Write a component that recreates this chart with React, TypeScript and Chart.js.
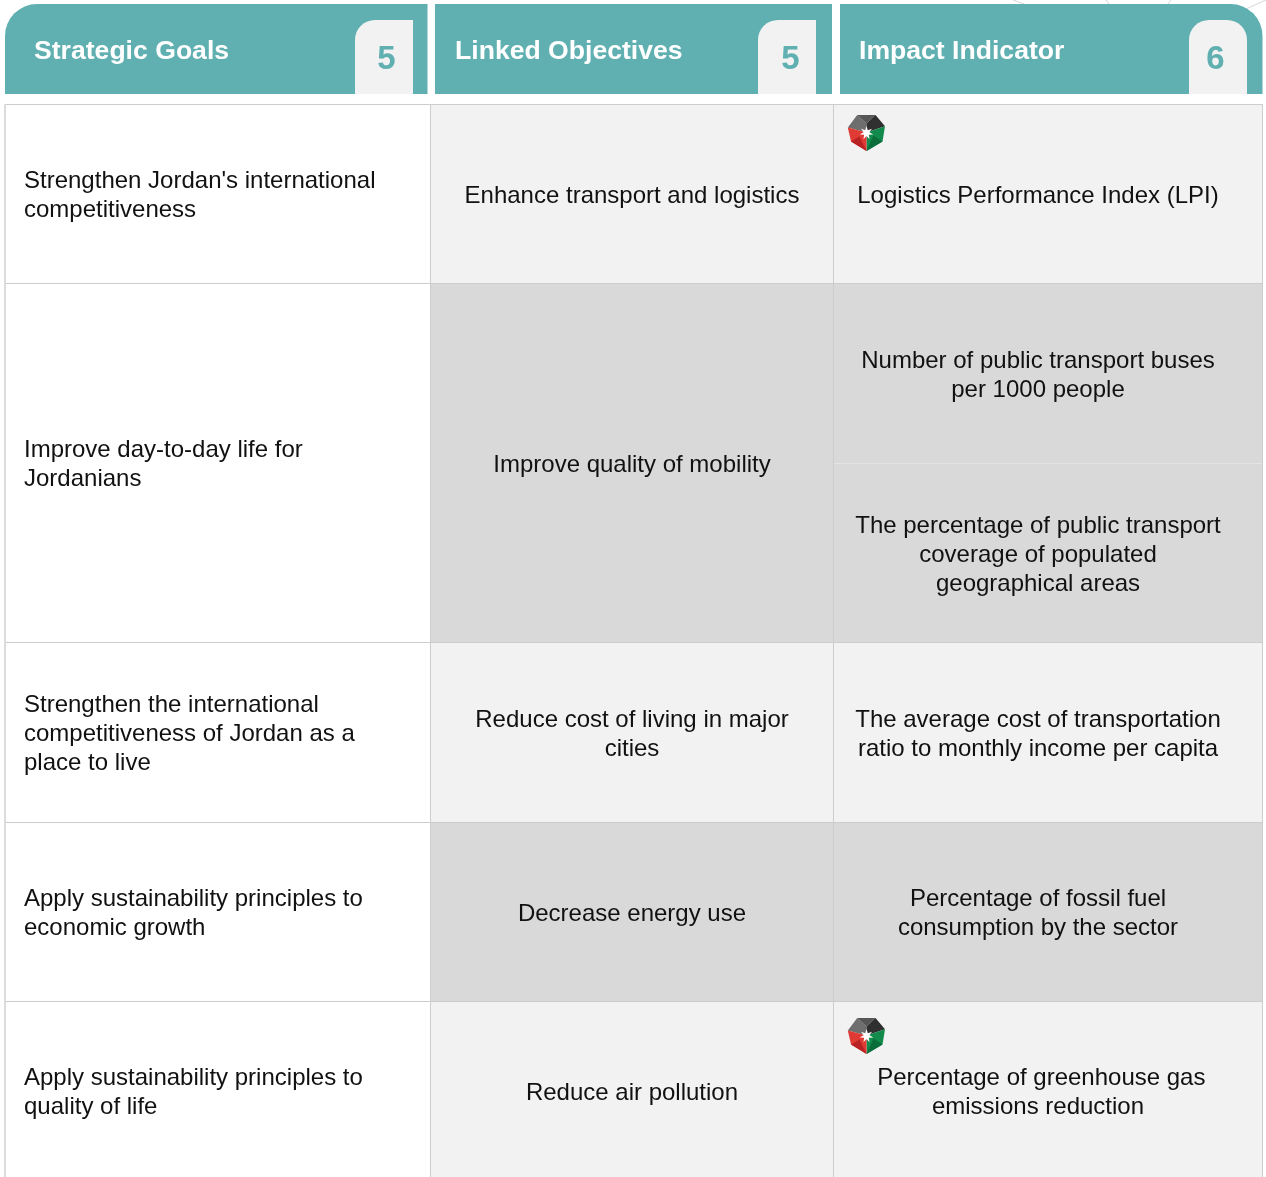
import React, { useEffect, useRef } from "react";
import { Chart, registerables } from "chart.js";

Chart.register(...registerables);

const headers = ["Strategic Goals", "Linked Objectives", "Impact Indicator"];
const headerCounts = ["5", "5", "6"];
const goals = [
  ["Strengthen Jordan's international", "competitiveness"],
  ["Improve day-to-day life for", "Jordanians"],
  ["Strengthen the international", "competitiveness of Jordan as a", "place to live"],
  ["Apply sustainability principles to", "economic growth"],
  ["Apply sustainability principles to", "quality of life"],
];
const goalRowSpans = [1, 2, 1, 1, 1];
const objectives = [
  ["Enhance transport and logistics"],
  ["Improve quality of mobility"],
  ["Reduce cost of living in major", "cities"],
  ["Decrease energy use"],
  ["Reduce air pollution"],
];
const indicators = [
  ["Logistics Performance Index (LPI)"],
  ["Number of public transport buses", "per 1000 people"],
  ["The percentage of public transport", "coverage of populated", "geographical areas"],
  ["The average cost of transportation", "ratio to monthly income per capita"],
  ["Percentage of fossil fuel", "consumption by the sector"],
  [" Percentage of greenhouse gas", "emissions reduction"],
];
const indicatorRowSpans = [1, 1, 1, 1, 1, 1];
const indicatorShades = [0, 1, 1, 0, 1, 0];
const objectiveShades = [0, 1, 0, 1, 0];
const logoRows = [0, 5];

const W = 1266, H = 1177;
const TEAL = "#60b0b1";
const SHADES = ["#f2f2f2", "#d9d9d9"];
const LINE = "#cdcdcd";
const colX = [4.5, 430, 833, 1262];
const textX = [24, 632, 1038];
const rowTop = 104, rowH = 179.4;
const headerBoxes = [[5, 427.5], [435, 832], [840, 1262.5]];
const tabBoxes = [[355, 413], [758, 816], [1189, 1247]];
const headerRadii = [{ topLeft: 32 }, {}, { topRight: 32 }];
const tabRadii = [{ topLeft: 20 }, { topLeft: 20 }, { topLeft: 20, topRight: 20 }];
const headerTextX = [34, 455, 859];
const countX = [386.5, 790.5, 1215.5];
const decoLines = [
  [[1013, 0], [1024, 4]],
  [[1106, 0], [1109, 4]],
  [[1171, 0], [1168, 4]],
  [[1266, 0], [1246, 9]],
];

function App() {
  const ref = useRef<HTMLCanvasElement>(null);
  useEffect(() => {
    const box = (x0: number, x1: number, y0: number, y1: number, color: string, extra: any = {}) => ({
      type: "bar" as const,
      data: [{ x: [x0, x1], y: (y0 + y1) / 2 }],
      backgroundColor: color,
      borderColor: color,
      borderWidth: 0,
      barThickness: y1 - y0,
      grouped: false,
      borderSkipped: false,
      inflateAmount: 0,
      order: 1,
      ...extra,
    });
    const cells: any[] = [];
    const labels: { lines: string[]; x: number; y: number; align: CanvasTextAlign }[] = [];
    const addCol = (col: number, spans: number[], shades: number[] | null, texts: string[][]) => {
      let r = 0;
      spans.forEach((s, i) => {
        const y0 = Math.round(rowTop + r * rowH);
        const y1 = Math.round(rowTop + (r + s) * rowH);
        const fill = shades ? SHADES[shades[i]] : "#ffffff";
        cells.push(box(colX[col], colX[col + 1] + 1, y0, y1 + 1, fill, { borderColor: LINE, borderWidth: 1 }));
        labels.push({ lines: texts[i], x: textX[col], y: (y0 + y1) / 2 + 2.5, align: col === 0 ? "left" : "center" });
        r += s;
      });
    };
    addCol(0, goalRowSpans, null, goals);
    addCol(1, [1, 2, 1, 1, 1], objectiveShades, objectives);
    addCol(2, indicatorRowSpans, indicatorShades, indicators);

    const splitY = Math.round(rowTop + 2 * rowH);
    const split = box(colX[2] + 1, colX[3], splitY, splitY + 1, "#e4e4e4", { order: 0 });
    const leftEdge = box(4, 6, rowTop, H, "#dcdcdc", { order: 0 });

    const headerBars = headerBoxes.map((b, i) =>
      box(b[0], b[1], 4, 94, TEAL, { borderRadius: headerRadii[i] })
    );
    const tabBars = tabBoxes.map((b, i) =>
      box(b[0], b[1], 20, 94, "#f2f2f2", { borderRadius: tabRadii[i], order: 0 })
    );
    const lines = decoLines.map((l) => ({
      type: "line" as const,
      data: l.map((p) => ({ x: p[0], y: p[1] })),
      borderColor: "#d8d8d8",
      borderWidth: 1,
      pointRadius: 0,
      order: 5,
    }));

    const overlay = {
      id: "tableText",
      afterDatasetsDraw(chart: any) {
        const { ctx, scales } = chart;
        const px = (v: number) => scales.x.getPixelForValue(v);
        const py = (v: number) => scales.y.getPixelForValue(v);
        ctx.save();
        ctx.textBaseline = "middle";
        ctx.fillStyle = "#ffffff";
        ctx.font = 'bold 26.6px "Liberation Sans"';
        ctx.textAlign = "left";
        headers.forEach((h, i) => ctx.fillText(h, px(headerTextX[i]), py(52)));
        ctx.fillStyle = TEAL;
        ctx.font = 'bold 33px "Liberation Sans"';
        ctx.textAlign = "center";
        headerCounts.forEach((c, i) => ctx.fillText(c, px(countX[i]), py(60)));
        ctx.fillStyle = "#111111";
        ctx.font = '24px "Liberation Sans"';
        labels.forEach((l) => {
          ctx.textAlign = l.align;
          const top = l.y - ((l.lines.length - 1) * 29) / 2;
          l.lines.forEach((t, i) => ctx.fillText(t, px(l.x), py(top + i * 29)));
        });
        logoRows.forEach((r) => drawLogo(ctx, px(867.5), py(r === 0 ? 132.5 : 1035.5)));
        ctx.restore();
      },
    };

    const chart = new Chart(ref.current!, {
      type: "bar",
      data: { datasets: [...lines, ...cells, split, leftEdge, ...headerBars, ...tabBars] as any },
      options: {
        indexAxis: "y",
        responsive: false,
        animation: false,
        layout: { padding: 0 },
        scales: {
          x: { type: "linear", min: 0, max: W, display: false, offset: false },
          y: { type: "linear", min: 0, max: H, reverse: true, display: false, offset: false },
        },
        plugins: { legend: { display: false }, tooltip: { enabled: false } },
      },
      plugins: [overlay],
    } as any);
    return () => chart.destroy();
  }, []);
  return (
    <div style={{ position: "absolute", left: 0, top: 0, width: W, height: H, background: "#fff" }}>
      <canvas ref={ref} width={W} height={H} style={{ display: "block" }} />
    </div>
  );
}

function drawLogo(ctx: CanvasRenderingContext2D, cx: number, cy: number) {
  const V: [number, number][] = [
    [-10.3, -17.5], [8, -17.5], [17.5, -6.3], [15, 9], [-1, 18.5], [-16.5, 9], [-19.7, -5],
  ];
  const c: [number, number] = [-1, 0];
  const m: [number, number] = [-1, -9];
  const poly = (pts: [number, number][], fill: string) => {
    ctx.beginPath();
    pts.forEach((p, i) => (i ? ctx.lineTo(cx + p[0], cy + p[1]) : ctx.moveTo(cx + p[0], cy + p[1])));
    ctx.closePath();
    ctx.fillStyle = fill;
    ctx.fill();
  };
  poly([V[6], V[0], m, c], "#6e6e6e");
  poly([V[0], V[1], m], "#565656");
  poly([V[1], V[2], c, m], "#2f2f2f");
  poly([V[2], V[3], V[4], c], "#128a4c");
  poly([V[3], V[4], [6, 3]], "#0b6e3a");
  poly([V[6], c, V[4], V[5]], "#e03a34");
  poly([V[5], V[4], [-8, 4]], "#b82224");
  ctx.beginPath();
  for (let i = 0; i < 14; i++) {
    const a = (i * Math.PI) / 7 - Math.PI / 2;
    const r = i % 2 ? 3 : 7;
    const x = cx - 1 + r * Math.cos(a), y = cy + 0.5 + r * Math.sin(a);
    i ? ctx.lineTo(x, y) : ctx.moveTo(x, y);
  }
  ctx.closePath();
  ctx.fillStyle = "#ffffff";
  ctx.fill();
}

export default App;
